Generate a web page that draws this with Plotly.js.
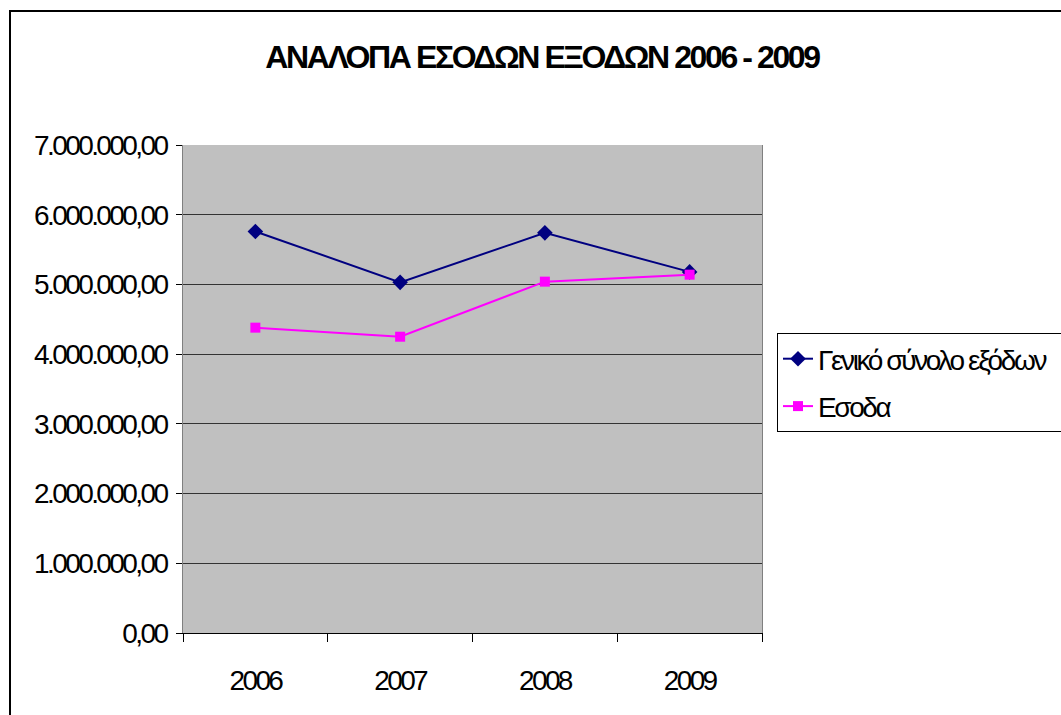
<!DOCTYPE html>
<html>
<head>
<meta charset="utf-8">
<script src="https://cdn.plot.ly/plotly-3.0.1.min.js"></script>
<style>
html,body{margin:0;padding:0;background:#fff;}
#chart{width:1061px;height:715px;}
#chart .xtick text, #chart .ytick text{letter-spacing:-2.6px;}
#chart .gtitle{letter-spacing:-2.4px;}
#chart .legendtext{letter-spacing:-2.4px;}
</style>
</head>
<body>
<div id="chart"></div>
<script>
const years = ['2006', '2007', '2008', '2009'];
const expensesTotal = [5760000, 5030000, 5740000, 5180000];
const income = [4380000, 4250000, 5040000, 5140000];
const seriesNames = ['Γενικό σύνολο εξόδων', 'Εσοδα'];
const chartTitle = 'ΑΝΑΛΟΠΑ ΕΣΟΔΩΝ ΕΞΟΔΩΝ 2006 - 2009';

const FONT = '"Liberation Sans Narrow", "Arial Narrow", "Liberation Sans", Arial, sans-serif';
const L = 183, R = 762, T = 145, B = 633, W = 1061, H = 715;
const pw = R - L, ph = B - T;

const traces = [
  {
    x: years, y: expensesTotal, name: seriesNames[0], type: 'scatter', mode: 'lines+markers',
    legendgroup: 'a',
    line: {color: '#000080', width: 2},
    marker: {symbol: 'diamond', size: 12, color: '#000080'}
  },
  {
    x: years, y: income, name: seriesNames[1], type: 'scatter', mode: 'lines+markers',
    legendgroup: 'b',
    line: {color: '#FF00FF', width: 2},
    marker: {symbol: 'square', size: 10, color: '#FF00FF'}
  }
];

const layout = {
  width: W, height: H,
  margin: {l: L, r: W - R, t: T, b: H - B, pad: 0, autoexpand: false},
  paper_bgcolor: '#ffffff',
  plot_bgcolor: '#C0C0C0',
  separators: ',.',
  showlegend: true,
  title: {
    text: '<b>' + chartTitle + '</b>',
    font: {family: FONT, size: 32, color: '#000'},
    x: 542 / W, xanchor: 'center', xref: 'container',
    y: 1 - 57 / H, yanchor: 'middle', yref: 'container'
  },
  xaxis: {
    type: 'category', range: [-0.5, 3.5],
    showgrid: false, zeroline: false,
    showline: true, linecolor: '#000', linewidth: 1, mirror: false,
    ticks: 'outside', tickson: 'boundaries', ticklen: 8, tickcolor: '#000', tickwidth: 1,
    tickfont: {family: FONT, size: 28, color: '#000'},
    ticklabelstandoff: 22,
    fixedrange: true
  },
  yaxis: {
    range: [0, 7000000], dtick: 1000000, tick0: 0,
    tickformat: ',.2f',
    showgrid: true, gridcolor: '#333333', gridwidth: 1,
    zeroline: false,
    showline: true, linecolor: '#808080', linewidth: 1, mirror: true,
    ticks: 'outside', ticklen: 6, tickcolor: '#000', tickwidth: 1,
    tickfont: {family: FONT, size: 28, color: '#000'},
    ticklabelstandoff: 4,
    fixedrange: true
  },
  legend: {
    x: (777 - L) / pw, xanchor: 'left',
    y: (B - 333) / ph, yanchor: 'top',
    bgcolor: '#ffffff', bordercolor: '#000', borderwidth: 1,
    font: {family: FONT, size: 28, color: '#000'},
    traceorder: 'grouped', tracegroupgap: 8, itemwidth: 30
  },
  shapes: [
    {
      type: 'rect', xref: 'paper', yref: 'paper', layer: 'above',
      x0: (10 - L) / pw, x1: (1100 - L) / pw,
      y0: (B - 760) / ph, y1: (B - 11) / ph,
      line: {color: '#000', width: 2}, fillcolor: 'rgba(0,0,0,0)'
    }
  ]
};

Plotly.newPlot('chart', traces, layout, {displayModeBar: false, staticPlot: true});
</script>
</body>
</html>
